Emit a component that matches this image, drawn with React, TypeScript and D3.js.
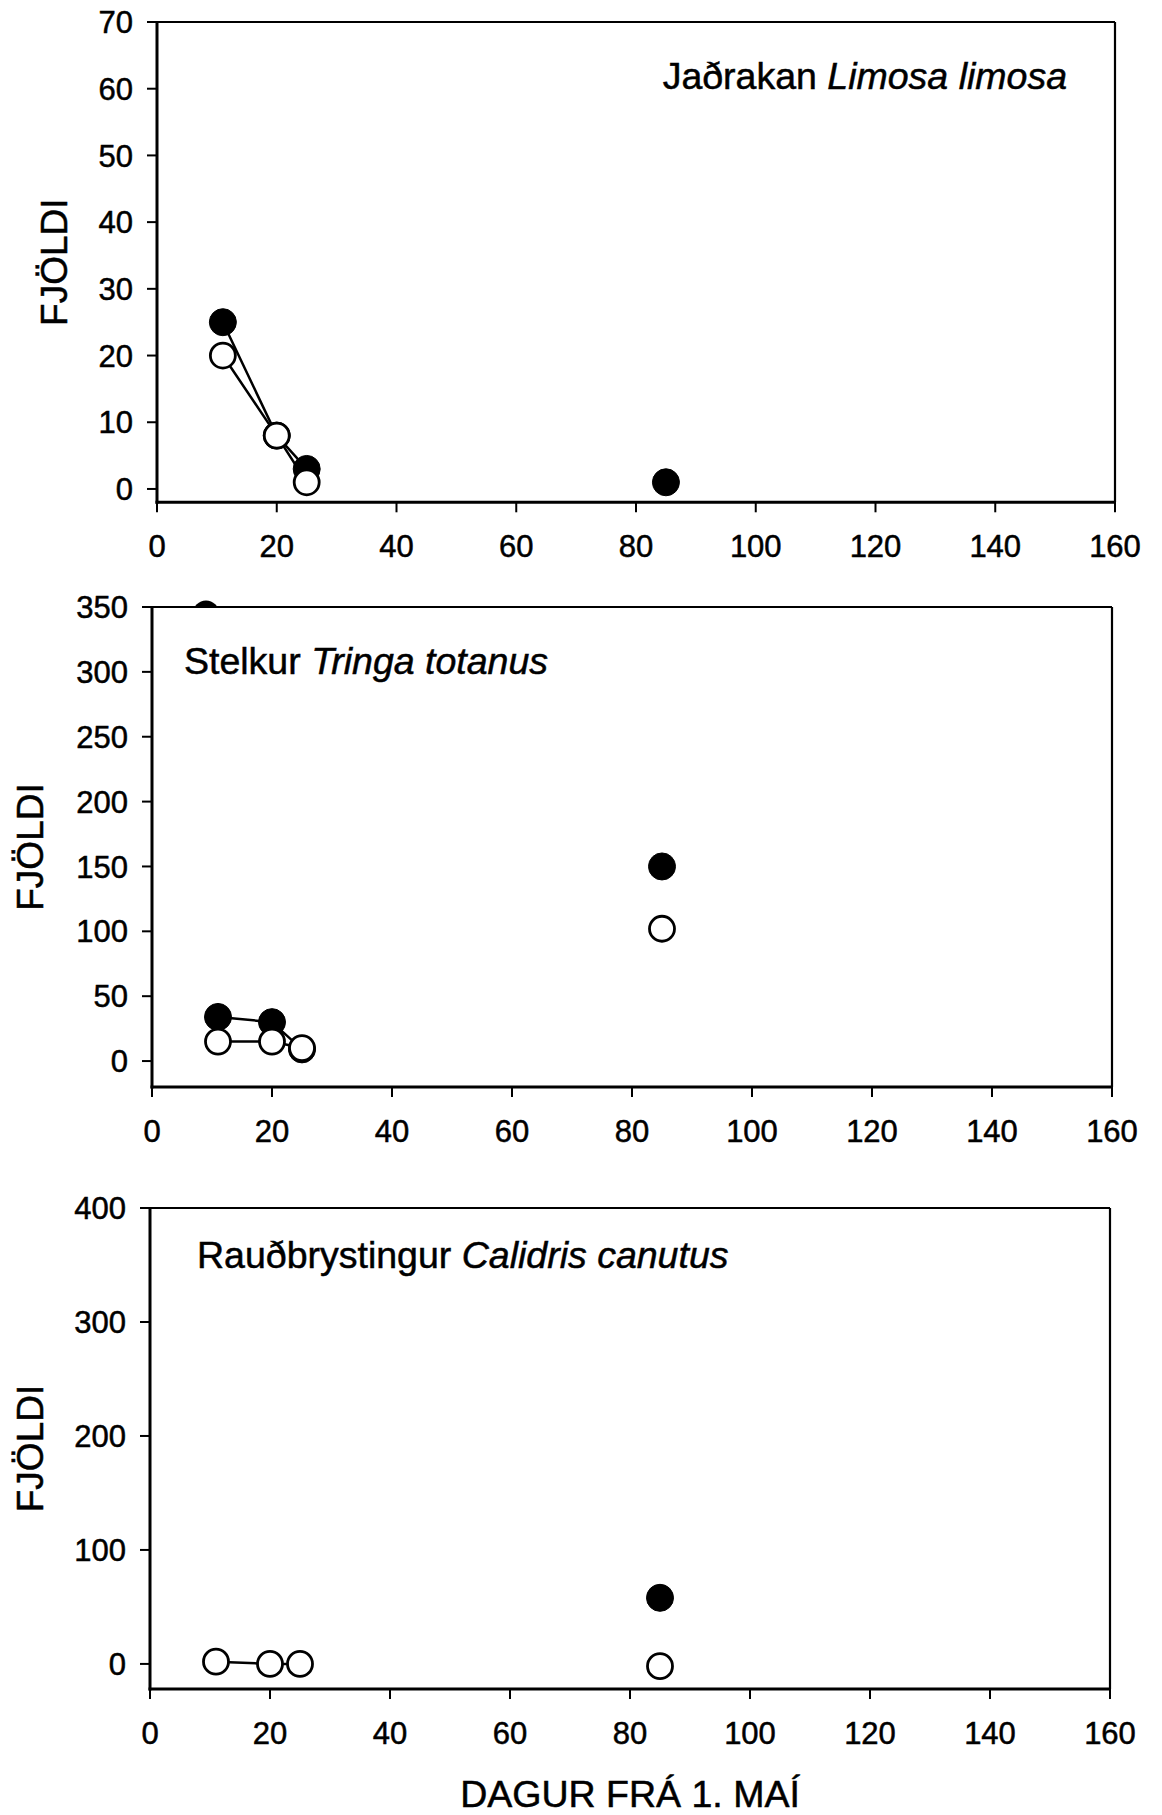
import React from "react";
import * as d3 from "d3";

// ---- data ----
const DAYS = [11, 20, 25, 85];
const JOINED = [true, true, true, false];
const X_TICKS = [0, 20, 40, 60, 80, 100, 120, 140, 160];

const JADRAKAN_FILLED: (number | null)[] = [25, 8, 3, 1];
const JADRAKAN_OPEN: (number | null)[] = [20, 8, 1, null];
const JADRAKAN_TICKS = [0, 10, 20, 30, 40, 50, 60, 70];

const STELKUR_FILLED: (number | null)[] = [34, 30, 9, 150];
const STELKUR_OPEN: (number | null)[] = [15, 15, 10, 102];
const STELKUR_OFFSCALE_DAY = [9];
const STELKUR_OFFSCALE_VALUE = [345];
const STELKUR_TICKS = [0, 50, 100, 150, 200, 250, 300, 350];

const RAUD_FILLED: (number | null)[] = [null, null, null, 58];
const RAUD_OPEN: (number | null)[] = [2, 0, 0, -2];
const RAUD_TICKS = [0, 100, 200, 300, 400];

const FONT = "'Liberation Sans', Arial, Helvetica, sans-serif";

type Panel = {
  key: string;
  left: number;
  right: number;
  top: number;
  bottom: number;
  yDomain: [number, number];
  yTicks: number[];
  filled: (number | null)[];
  open: (number | null)[];
  common: string;
  latin: string;
  titleX: number;
  titleY: number;
  titleAnchor: "start" | "end";
  yTitleX: number;
  offDays?: number[];
  offValues?: number[];
};

const PANELS: Panel[] = [
  {
    key: "p1",
    left: 157, right: 1115, top: 22, bottom: 502.3,
    yDomain: [-2, 70], yTicks: JADRAKAN_TICKS,
    filled: JADRAKAN_FILLED, open: JADRAKAN_OPEN,
    common: "Jaðrakan ", latin: "Limosa limosa",
    titleX: 1067, titleY: 89, titleAnchor: "end", yTitleX: 67,
  },
  {
    key: "p2",
    left: 152, right: 1112, top: 607, bottom: 1087,
    yDomain: [-20, 350], yTicks: STELKUR_TICKS,
    filled: STELKUR_FILLED, open: STELKUR_OPEN,
    common: "Stelkur ", latin: "Tringa totanus",
    titleX: 184, titleY: 674, titleAnchor: "start", yTitleX: 43,
    offDays: STELKUR_OFFSCALE_DAY, offValues: STELKUR_OFFSCALE_VALUE,
  },
  {
    key: "p3",
    left: 150, right: 1110, top: 1208, bottom: 1689,
    yDomain: [-22, 400], yTicks: RAUD_TICKS,
    filled: RAUD_FILLED, open: RAUD_OPEN,
    common: "Rauðbrystingur ", latin: "Calidris canutus",
    titleX: 197, titleY: 1268, titleAnchor: "start", yTitleX: 43,
  },
];

const R = 13;
const TXT = { fill: "#000", stroke: "#000", strokeWidth: 0.5, fontFamily: FONT };

function PanelView({ p }: { p: Panel }) {
  const x = d3.scaleLinear().domain([0, 160]).range([p.left, p.right]);
  const y = d3.scaleLinear().domain(p.yDomain).range([p.bottom, p.top]);
  const idx = DAYS.map((_, i) => i);
  const lineFor = (vals: (number | null)[]) =>
    d3
      .line<number>()
      .defined((i) => JOINED[i] && vals[i] !== null)
      .x((i) => x(DAYS[i]))
      .y((i) => y(vals[i] as number))(idx) || "";
  const clipId = `clip-above-${p.key}`;
  return (
    <g>
      {/* frame: top and right thinner */}
      <line x1={p.left} x2={p.right} y1={p.top} y2={p.top} stroke="#000" strokeWidth={2.2} />
      <line x1={p.right} x2={p.right} y1={p.top} y2={p.bottom} stroke="#000" strokeWidth={2.2} />
      <line x1={p.left} x2={p.left} y1={p.top - 1} y2={p.bottom + 1.5} stroke="#000" strokeWidth={3} />
      <line x1={p.left - 1.5} x2={p.right + 1} y1={p.bottom} y2={p.bottom} stroke="#000" strokeWidth={3} />
      {/* y ticks */}
      {p.yTicks.map((t) => (
        <g key={`y${t}`}>
          <line x1={p.left - 10} x2={p.left} y1={y(t)} y2={y(t)} stroke="#000" strokeWidth={2} />
          <text x={p.left - 24} y={y(t)} dy="0.36em" textAnchor="end" fontSize={31} {...TXT}>
            {t}
          </text>
        </g>
      ))}
      {/* x ticks */}
      {X_TICKS.map((t) => (
        <g key={`x${t}`}>
          <line x1={x(t)} x2={x(t)} y1={p.bottom} y2={p.bottom + 10} stroke="#000" strokeWidth={2} />
          <text x={x(t)} y={p.bottom + 55} textAnchor="middle" fontSize={31} {...TXT}>
            {t}
          </text>
        </g>
      ))}
      {/* y title */}
      <text
        transform={`translate(${p.yTitleX},${(p.top + p.bottom) / 2}) rotate(-90)`}
        textAnchor="middle"
        fontSize={37}
        {...TXT}
      >
        FJÖLDI
      </text>
      {/* panel title */}
      <text x={p.titleX} y={p.titleY} textAnchor={p.titleAnchor} fontSize={37.5} {...TXT}>
        {p.common}
        <tspan fontStyle="italic">{p.latin}</tspan>
      </text>
      {/* off-scale point peeking over the frame */}
      {p.offDays && p.offValues && (
        <g>
          <clipPath id={clipId}>
            <rect x={p.left} y={p.top - 30} width={p.right - p.left} height={30} />
          </clipPath>
          {p.offDays.map((d, i) => (
            <circle key={i} cx={x(d)} cy={y(p.offValues![i])} r={R} fill="#000" clipPath={`url(#${clipId})`} />
          ))}
        </g>
      )}
      {/* lines */}
      <path d={lineFor(p.filled)} fill="none" stroke="#000" strokeWidth={2.5} />
      <path d={lineFor(p.open)} fill="none" stroke="#000" strokeWidth={2.5} />
      {/* filled points */}
      {idx
        .filter((i) => p.filled[i] !== null)
        .map((i) => (
          <circle key={`f${i}`} cx={x(DAYS[i])} cy={y(p.filled[i] as number)} r={R + 0.5} fill="#000" stroke="#000" strokeWidth={1} />
        ))}
      {/* open points */}
      {idx
        .filter((i) => p.open[i] !== null)
        .map((i) => (
          <circle key={`o${i}`} cx={x(DAYS[i])} cy={y(p.open[i] as number)} r={R - 0.5} fill="#fff" stroke="#000" strokeWidth={2.8} />
        ))}
    </g>
  );
}

export default function App() {
  return (
    <svg
      width={1162}
      height={1815}
      viewBox="0 0 1162 1815"
      style={{ position: "absolute", left: 0, top: 0, background: "#fff" }}
    >
      <rect x={0} y={0} width={1162} height={1815} fill="#fff" />
      {PANELS.map((p) => (
        <PanelView key={p.key} p={p} />
      ))}
      <text x={630} y={1807} textAnchor="middle" fontSize={37.5} {...TXT}>
        DAGUR FRÁ 1. MAÍ
      </text>
    </svg>
  );
}
